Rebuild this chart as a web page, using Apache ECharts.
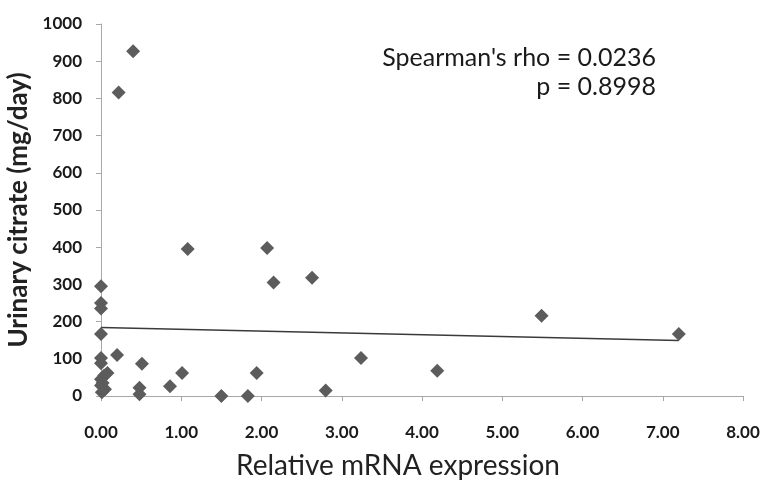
<!DOCTYPE html>
<html>
<head>
<meta charset="utf-8">
<script src="https://cdn.jsdelivr.net/npm/echarts@6/dist/echarts.min.js"></script>
<style>
html,body{margin:0;padding:0;background:#fff;}
#chart{width:765px;height:481px;}
</style>
</head>
<body>
<div id="chart"></div>
<script>
// Data
const expression = [0.40, 0.22, 1.08, 2.07, 2.15, 2.63, 0.00, 0.00, 0.00, 0.00, 0.20, 0.00, 0.00, 0.51, 0.08, 0.04, 0.00, 0.02, 0.00, 0.05, 0.01, 0.48, 0.48, 0.86, 1.01, 1.50, 1.83, 1.94, 2.80, 3.24, 4.19, 5.49, 7.20];
const citrate    = [927, 816, 395, 398, 305, 318, 295, 250, 235, 167, 110, 102, 88, 87, 62, 55, 45, 35, 28, 18, 10, 22, 5, 26, 62, 0, 0, 62, 15, 102, 68, 216, 167];
const trendX = [0.00, 7.20];
const trendY = [184, 149];
const xTicks = [0, 1, 2, 3, 4, 5, 6, 7, 8];
const yTicks = [0, 100, 200, 300, 400, 500, 600, 700, 800, 900, 1000];
const annotation1 = "Spearman's rho = 0.0236";
const annotation2 = "p = 0.8998";

const FONT = 'Lato';
const chart = echarts.init(document.getElementById('chart'));
const points = expression.map((x, i) => [x, citrate[i]]);
const trend = trendX.map((x, i) => [x, trendY[i]]);

chart.setOption({
  backgroundColor: '#ffffff',
  animation: false,
  textStyle: { fontFamily: FONT },
  grid: { left: 101, right: 22, top: 24, bottom: 85, containLabel: false, outerBoundsMode: 'none' },
  xAxis: {
    type: 'value',
    min: xTicks[0], max: xTicks[xTicks.length - 1], interval: 1,
    name: 'Relative mRNA expression',
    nameLocation: 'middle', nameGap: 56,
    nameTextStyle: { fontSize: 28, color: '#222', fontFamily: FONT, padding: [0, 48, 0, 0] },
    axisLine: { show: true, lineStyle: { color: '#a8a8a8', width: 1 } },
    axisTick: { show: true, length: 5, lineStyle: { color: '#a8a8a8' } },
    axisLabel: { margin: 28, fontSize: 17, fontWeight: 'bold', color: '#1a1a1a', formatter: v => v.toFixed(2) },
    splitLine: { show: false }
  },
  yAxis: {
    type: 'value',
    min: yTicks[0], max: yTicks[yTicks.length - 1], interval: 100,
    name: 'Urinary citrate (mg/day)',
    nameLocation: 'middle', nameGap: 66, nameRotate: 90,
    nameTextStyle: { fontSize: 26, fontWeight: 'bold', color: '#222', fontFamily: FONT },
    axisLine: { show: true, lineStyle: { color: '#a8a8a8', width: 1 } },
    axisTick: { show: true, length: 5, lineStyle: { color: '#a8a8a8' } },
    axisLabel: { margin: 19, fontSize: 17, fontWeight: 'bold', color: '#1a1a1a', formatter: v => String(v) },
    splitLine: { show: false }
  },
  series: [
    {
      type: 'line',
      data: trend,
      symbol: 'none',
      lineStyle: { color: '#3a3a3a', width: 1.5 },
      z: 2
    },
    {
      type: 'scatter',
      data: points,
      symbol: 'diamond',
      symbolSize: 14,
      itemStyle: { color: '#5c5c5c', opacity: 1 },
      z: 3
    }
  ],
  graphic: [
    { type: 'text', right: 765 - 656, top: 45,
      style: { text: annotation1, fontSize: 25, fontFamily: FONT, fill: '#1a1a1a', textAlign: 'right' } },
    { type: 'text', right: 765 - 656, top: 74,
      style: { text: annotation2, fontSize: 25, fontFamily: FONT, fill: '#1a1a1a', textAlign: 'right' } }
  ]
});
</script>
</body>
</html>
